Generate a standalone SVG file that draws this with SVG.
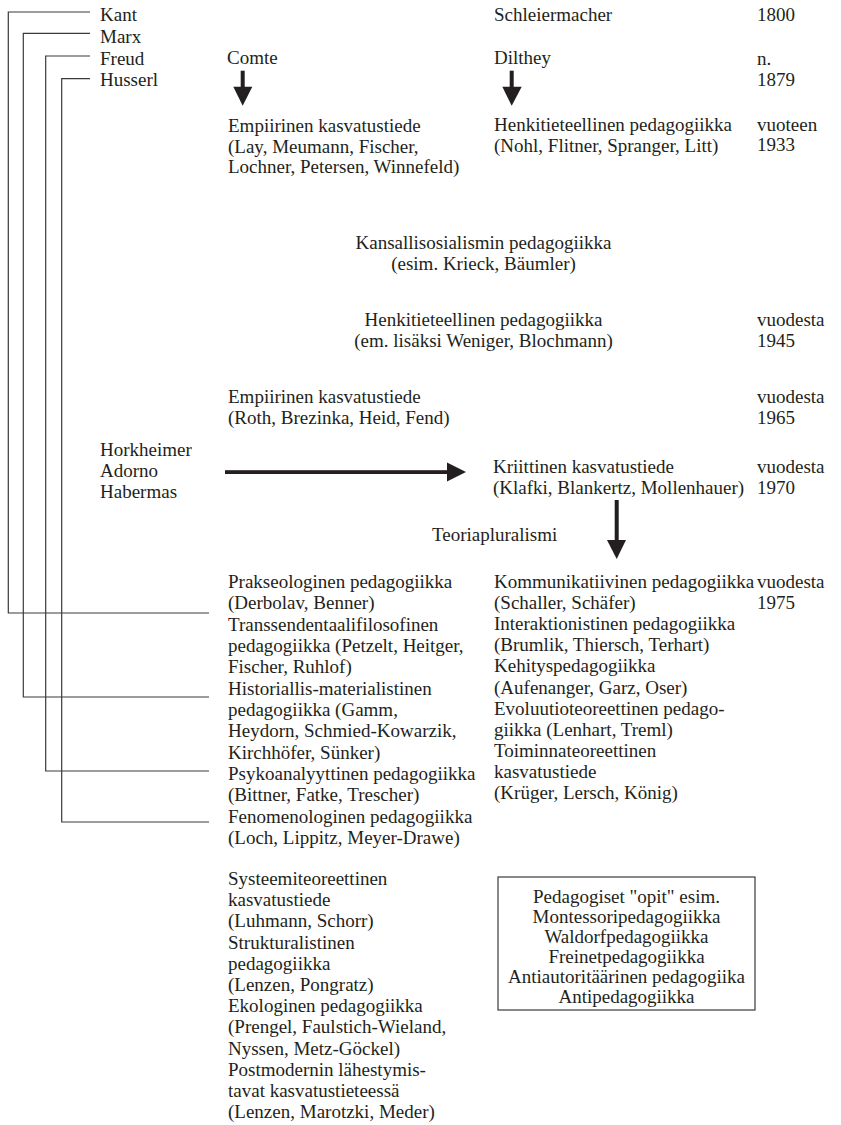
<svg xmlns="http://www.w3.org/2000/svg" width="841" height="1125" viewBox="0 0 841 1125">
<style>
text{font-family:"Liberation Serif","Times New Roman",serif;font-size:19px;fill:#231f20}
.c{text-anchor:middle}
.ln{fill:none;stroke:#3a3a3a;stroke-width:1.2}
.ar{fill:#231f20;stroke:none}
</style>
<rect width="841" height="1125" fill="#fff"/>
<g id="connectors">
  <polyline class="ln" points="90,12 8.3,12 8.3,613 209,613"/>
  <polyline class="ln" points="90,33.3 23.3,33.3 23.3,697 209,697"/>
  <polyline class="ln" points="90,56 45.7,56 45.7,771 209,771"/>
  <polyline class="ln" points="90,78.7 61.7,78.7 61.7,822 209,822"/>
  <g id="arrow-comte"><rect class="ar" x="240.7" y="70.7" width="4" height="17"/><polygon class="ar" points="233.3,86.7 252.3,86.7 242.7,105.7"/></g>
  <g id="arrow-dilthey"><rect class="ar" x="509.7" y="70.7" width="4" height="17"/><polygon class="ar" points="502.3,86.7 521.7,86.7 511.7,105.7"/></g>
  <g id="arrow-frankfurt"><rect class="ar" x="225" y="470.2" width="224" height="3.8"/><polygon class="ar" points="447,462.5 466,472.1 447,481.5"/></g>
  <g id="arrow-plural"><rect class="ar" x="614.7" y="500" width="4" height="41"/><polygon class="ar" points="607,540 626,540 616.7,559"/></g>
</g>
<g id="philosophers">
  <text x="100" y="21">Kant</text>
  <text x="100" y="43">Marx</text>
  <text x="100" y="64.5">Freud</text>
  <text x="100" y="86">Husserl</text>
</g>
<g id="schleiermacher"><text x="494" y="21">Schleiermacher</text></g>
<g id="comte"><text x="227" y="64">Comte</text></g>
<g id="dilthey"><text x="494" y="64">Dilthey</text></g>
<g id="years">
  <text x="757" y="21">1800</text>
  <text x="757" y="64.5">n.</text>
  <text x="757" y="86">1879</text>
  <text x="757" y="131">vuoteen</text>
  <text x="757" y="151">1933</text>
  <text x="757" y="326">vuodesta</text>
  <text x="757" y="347">1945</text>
  <text x="757" y="403">vuodesta</text>
  <text x="757" y="424">1965</text>
  <text x="757" y="472.5">vuodesta</text>
  <text x="757" y="493.5">1970</text>
  <text x="757" y="588">vuodesta</text>
  <text x="757" y="609">1975</text>
</g>
<g id="empiirinen-1">
  <text x="228" y="132">Empiirinen kasvatustiede</text>
  <text x="228" y="152.5">(Lay, Meumann, Fischer,</text>
  <text x="228" y="173">Lochner, Petersen, Winnefeld)</text>
</g>
<g id="henkitieteellinen-1">
  <text x="494" y="131">Henkitieteellinen pedagogiikka</text>
  <text x="494" y="151.5">(Nohl, Flitner, Spranger, Litt)</text>
</g>
<g id="kansallisosialismi">
  <text class="c" x="483.5" y="249">Kansallisosialismin pedagogiikka</text>
  <text class="c" x="483.5" y="270">(esim. Krieck, Bäumler)</text>
</g>
<g id="henkitieteellinen-2">
  <text class="c" x="483.5" y="326">Henkitieteellinen pedagogiikka</text>
  <text class="c" x="483.5" y="347">(em. lisäksi Weniger, Blochmann)</text>
</g>
<g id="empiirinen-2">
  <text x="228" y="403">Empiirinen kasvatustiede</text>
  <text x="228" y="424">(Roth, Brezinka, Heid, Fend)</text>
</g>
<g id="frankfurt">
  <text x="100" y="456">Horkheimer</text>
  <text x="100" y="477">Adorno</text>
  <text x="100" y="498">Habermas</text>
</g>
<g id="kriittinen">
  <text x="493" y="472.5">Kriittinen kasvatustiede</text>
  <text x="493" y="493.5">(Klafki, Blankertz, Mollenhauer)</text>
</g>
<g id="teoriapluralismi"><text x="432" y="541">Teoriapluralismi</text></g>
<g id="left-column">
  <text x="228" y="588">Prakseologinen pedagogiikka</text>
  <text x="228" y="609.3">(Derbolav, Benner)</text>
  <text x="228" y="630.7">Transsendentaalifilosofinen</text>
  <text x="228" y="652">pedagogiikka (Petzelt, Heitger,</text>
  <text x="228" y="673.3">Fischer, Ruhlof)</text>
  <text x="228" y="694.7">Historiallis-materialistinen</text>
  <text x="228" y="716">pedagogiikka (Gamm,</text>
  <text x="228" y="737.3">Heydorn, Schmied-Kowarzik,</text>
  <text x="228" y="758.7">Kirchhöfer, Sünker)</text>
  <text x="228" y="780">Psykoanalyyttinen pedagogiikka</text>
  <text x="228" y="801.3">(Bittner, Fatke, Trescher)</text>
  <text x="228" y="822.7">Fenomenologinen pedagogiikka</text>
  <text x="228" y="844">(Loch, Lippitz, Meyer-Drawe)</text>
</g>
<g id="right-column">
  <text x="494" y="588">Kommunikatiivinen pedagogiikka</text>
  <text x="494" y="609.1">(Schaller, Schäfer)</text>
  <text x="494" y="630.2">Interaktionistinen pedagogiikka</text>
  <text x="494" y="651.3">(Brumlik, Thiersch, Terhart)</text>
  <text x="494" y="672.4">Kehityspedagogiikka</text>
  <text x="494" y="693.5">(Aufenanger, Garz, Oser)</text>
  <text x="494" y="714.6">Evoluutioteoreettinen pedago-</text>
  <text x="494" y="735.7">giikka (Lenhart, Treml)</text>
  <text x="494" y="756.8">Toiminnateoreettinen</text>
  <text x="494" y="777.9">kasvatustiede</text>
  <text x="494" y="799">(Krüger, Lersch, König)</text>
</g>
<g id="bottom-column">
  <text x="228" y="885">Systeemiteoreettinen</text>
  <text x="228" y="906.2">kasvatustiede</text>
  <text x="228" y="927.4">(Luhmann, Schorr)</text>
  <text x="228" y="948.6">Strukturalistinen</text>
  <text x="228" y="969.8">pedagogiikka</text>
  <text x="228" y="991">(Lenzen, Pongratz)</text>
  <text x="228" y="1012.2">Ekologinen pedagogiikka</text>
  <text x="228" y="1033.4">(Prengel, Faulstich-Wieland,</text>
  <text x="228" y="1054.6">Nyssen, Metz-Göckel)</text>
  <text x="228" y="1075.8">Postmodernin lähestymis-</text>
  <text x="228" y="1097">tavat kasvatustieteessä</text>
  <text x="228" y="1118.2">(Lenzen, Marotzki, Meder)</text>
</g>
<g id="opit">
  <rect x="498" y="877" width="257" height="133" fill="none" stroke="#3a3a3a" stroke-width="1.2"/>
  <text class="c" x="626.5" y="903">Pedagogiset "opit" esim.</text>
  <text class="c" x="626.5" y="923">Montessoripedagogiikka</text>
  <text class="c" x="626.5" y="943">Waldorfpedagogiikka</text>
  <text class="c" x="626.5" y="963">Freinetpedagogiikka</text>
  <text class="c" x="626.5" y="983">Antiautoritäärinen pedagogiika</text>
  <text class="c" x="626.5" y="1003">Antipedagogiikka</text>
</g>
</svg>
